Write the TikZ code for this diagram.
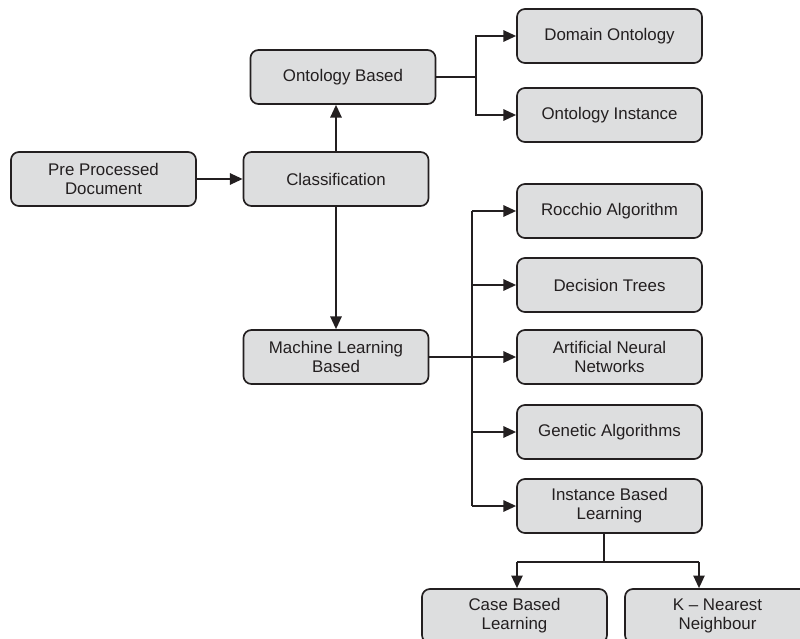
\documentclass[tikz,border=0pt]{standalone}
\usepackage{fontspec}
\setmainfont{Liberation Sans}
\usepackage{tikz}
\usetikzlibrary{arrows.meta}
\usetikzlibrary{calc}
\definecolor{boxgray}{RGB}{221,222,223}
\definecolor{ink}{RGB}{35,31,32}
\tikzset{
  blk/.style={draw=ink, fill=boxgray, rounded corners=0.2cm, line width=1.2pt,
    minimum width=4.625cm, minimum height=1.35cm, align=center, text=ink,
    font=\fontsize{12}{13.5}\selectfont},
  con/.style={draw=ink, line width=1.3pt},
  arr/.style={con, -{Triangle[length=9pt,width=8pt]}}
}
\newcommand\tbox[4]{
  \node[blk] (#1) at (#2,#3) {#4};
}

\begin{document}
\begin{tikzpicture}[x=0.025cm,y=-0.025cm]
\path[use as bounding box] (0,0) rectangle (800,638);
\clip (0,0) rectangle (800,638);

\tbox{pre}{103.5}{179}{Pre Processed\\Document};
\tbox{cls}{336}{179}{Classification};
\tbox{onto}{343}{77}{Ontology Based};
\tbox{dom}{609.5}{36}{Domain Ontology};
\tbox{oinst}{609.5}{115}{Ontology Instance};
\tbox{ml}{336}{357}{Machine Learning\\Based};
\tbox{roc}{609.5}{211}{Rocchio Algorithm};
\tbox{dec}{609.5}{285}{Decision Trees};
\tbox{ann}{609.5}{357}{Artificial Neural\\Networks};
\tbox{gen}{609.5}{432}{Genetic Algorithms};
\tbox{ibl}{609.5}{506}{Instance Based\\Learning};
\tbox{cbl}{514.5}{616}{Case Based\\Learning};
\tbox{knn}{717.5}{616}{K -- Nearest\\Neighbour};

%\draw [gray!50] (0,0) -- (800,638);
\coordinate (ob) at (476,77);
\coordinate (sp) at (472,0);
\coordinate (ib) at (604,562);
\coordinate (cl) at (517,562);
\coordinate (cr) at (699,562);

\draw [arr] (pre) -- (cls);
\draw [arr] (cls.north) -- (cls.north |- onto.south);
\draw [arr] (cls.south) -- (cls.south |- ml.north);
\draw [con] (onto.east) -- (ob);
\draw [arr] (ob) |- (dom.west);
\draw [arr] (ob) |- (oinst.west);
\draw [arr] (ml.east) -- (ann.west);
\draw [con] (sp |- roc.west) -- (sp |- ibl.west);
\foreach \n in {roc,dec,gen,ibl}
  \draw [arr] (sp |- \n.west) -- (\n.west);
\draw [con] (ibl.south -| ib) -- (ib);
\draw [con] (cl) -- (cr);
\draw [arr] (cl) -- (cl |- cbl.north);
\draw [arr] (cr) -- (cr |- knn.north);
\end{tikzpicture}
\end{document}
